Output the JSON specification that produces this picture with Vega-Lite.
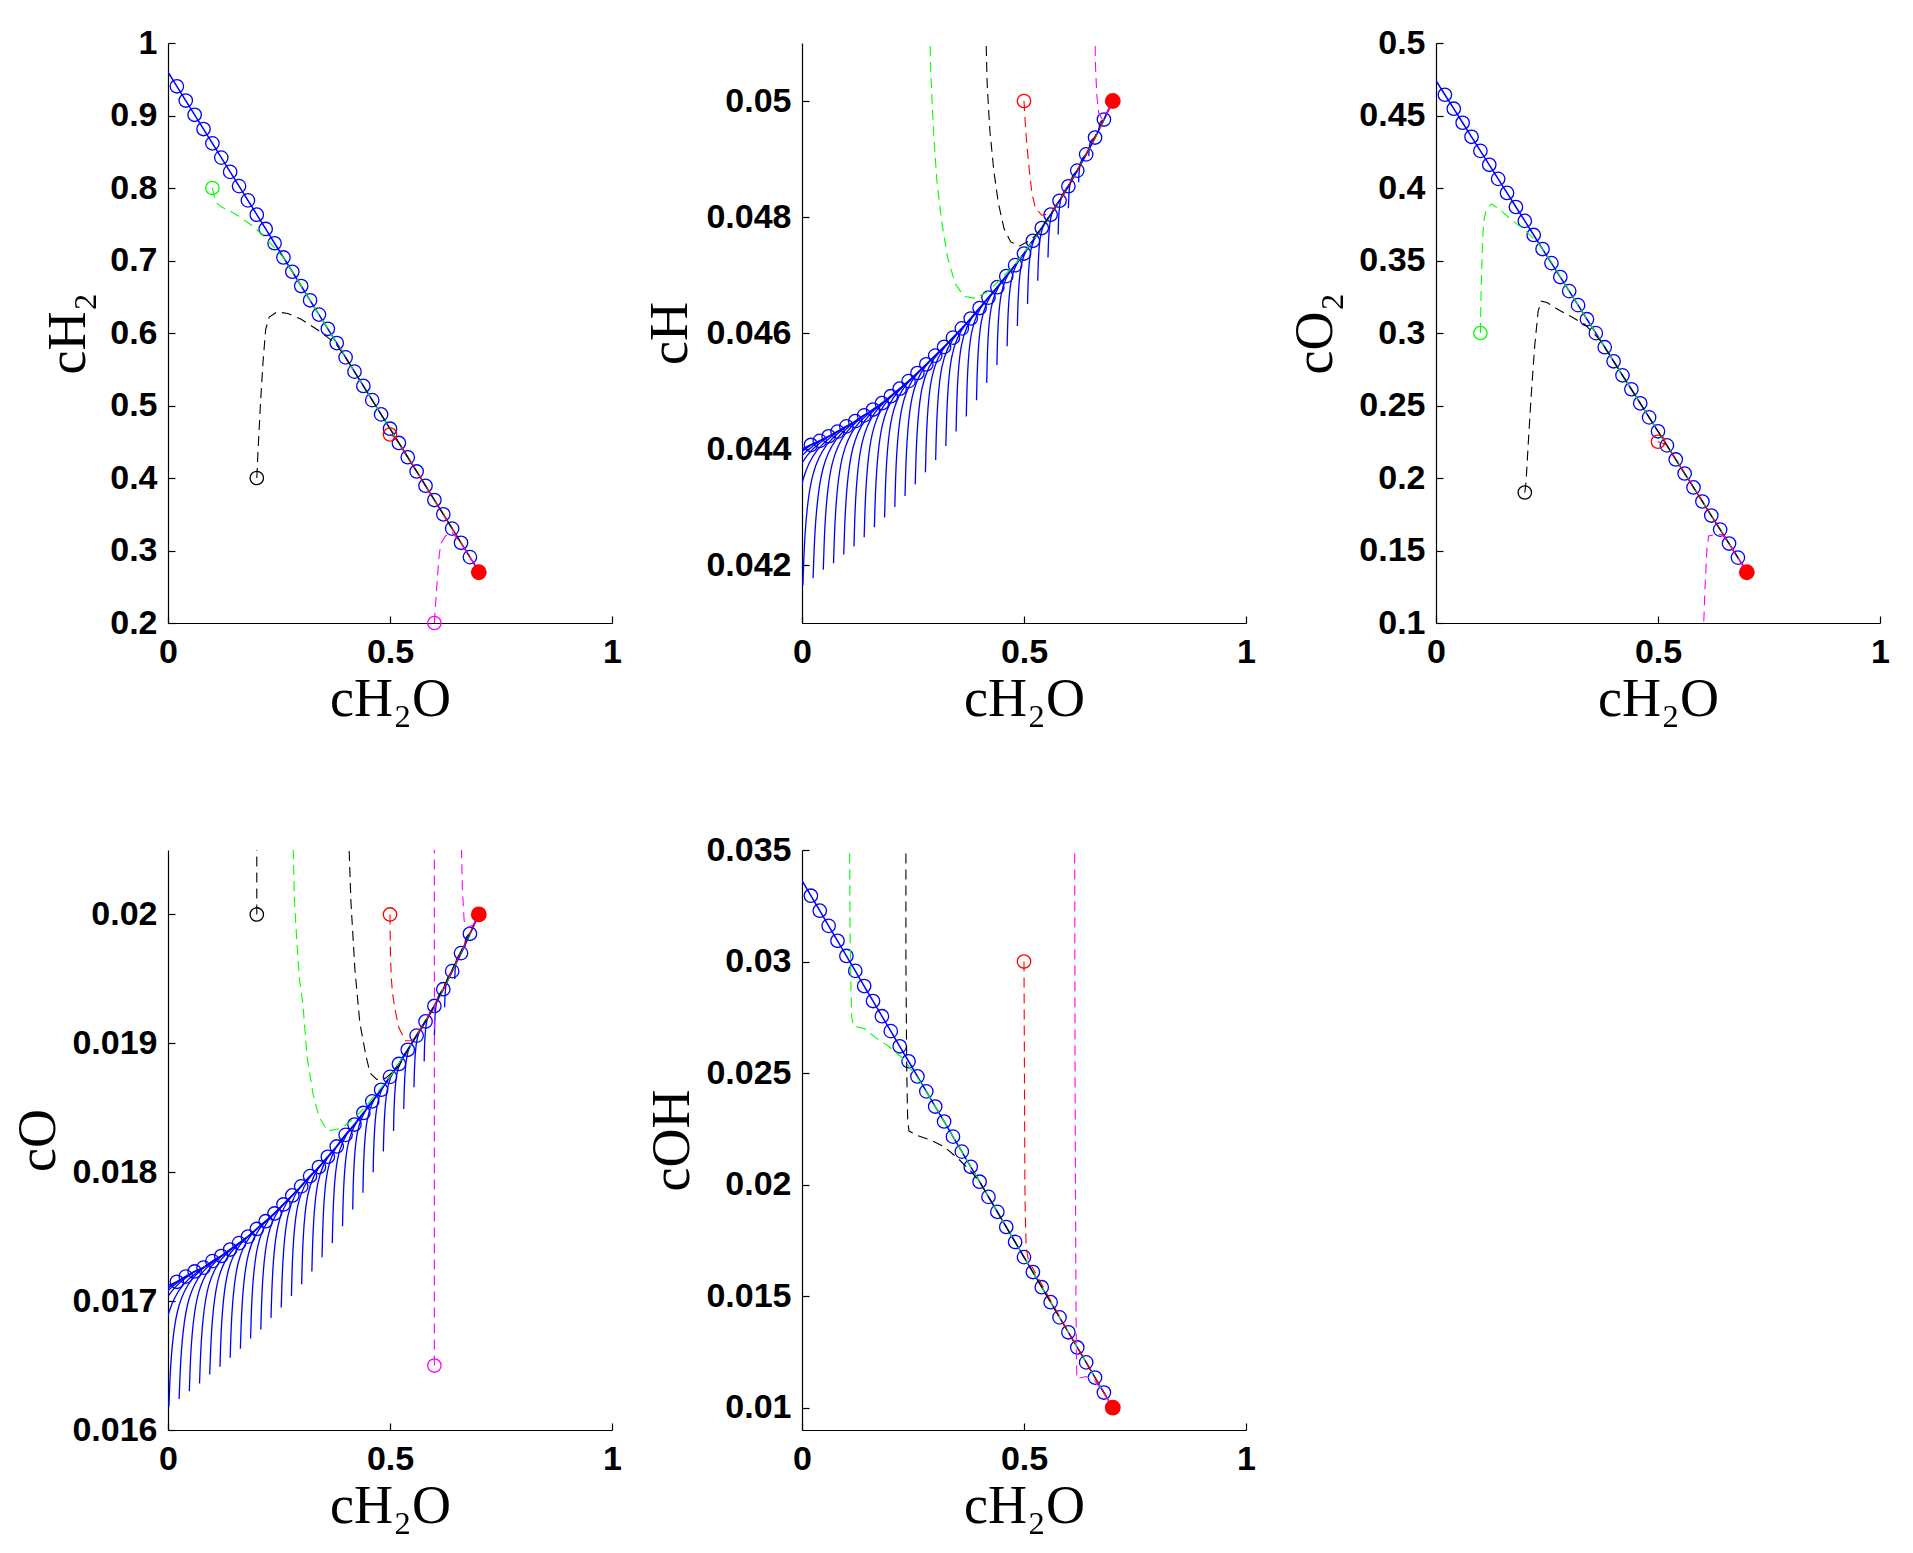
{
"$schema": "https://vega.github.io/schema/vega-lite/v6.json",
"background": "white",
"padding": {"left": 8, "top": 26, "right": 5, "bottom": 5},
"datasets": {
"man": [
{"p":1,"x":0,"y":0.96},{"p":1,"x":0.02,"y":0.9403},{"p":1,"x":0.04,"y":0.9206},{"p":1,"x":0.06,"y":0.901},{"p":1,"x":0.08,"y":0.8813},{"p":1,"x":0.1,"y":0.8616},{"p":1,"x":0.12,"y":0.8419},{"p":1,"x":0.14,"y":0.8222},{"p":1,"x":0.16,"y":0.8026},{"p":1,"x":0.18,"y":0.7829},{"p":1,"x":0.2,"y":0.7632},{"p":1,"x":0.22,"y":0.7435},{"p":1,"x":0.24,"y":0.7238},{"p":1,"x":0.26,"y":0.7042},{"p":1,"x":0.28,"y":0.6845},{"p":1,"x":0.3,"y":0.6648},{"p":1,"x":0.32,"y":0.6451},{"p":1,"x":0.34,"y":0.6254},{"p":1,"x":0.36,"y":0.6058},{"p":1,"x":0.38,"y":0.5861},{"p":1,"x":0.4,"y":0.5664},{"p":1,"x":0.42,"y":0.5467},{"p":1,"x":0.44,"y":0.527},{"p":1,"x":0.46,"y":0.5074},{"p":1,"x":0.48,"y":0.4877},{"p":1,"x":0.5,"y":0.468},{"p":1,"x":0.52,"y":0.4483},{"p":1,"x":0.54,"y":0.4286},{"p":1,"x":0.56,"y":0.409},{"p":1,"x":0.58,"y":0.3893},{"p":1,"x":0.6,"y":0.3696},{"p":1,"x":0.62,"y":0.3499},{"p":1,"x":0.64,"y":0.3302},{"p":1,"x":0.66,"y":0.3106},{"p":1,"x":0.68,"y":0.2909},{"p":1,"x":0.7,"y":0.2712},
{"p":2,"x":0,"y":0.044},{"p":2,"x":0.02,"y":0.04407},{"p":2,"x":0.04,"y":0.04414},{"p":2,"x":0.06,"y":0.04422},{"p":2,"x":0.08,"y":0.0443},{"p":2,"x":0.1,"y":0.04439},{"p":2,"x":0.12,"y":0.04448},{"p":2,"x":0.14,"y":0.04458},{"p":2,"x":0.16,"y":0.04468},{"p":2,"x":0.18,"y":0.04479},{"p":2,"x":0.2,"y":0.04491},{"p":2,"x":0.22,"y":0.04504},{"p":2,"x":0.24,"y":0.04517},{"p":2,"x":0.26,"y":0.04531},{"p":2,"x":0.28,"y":0.04546},{"p":2,"x":0.3,"y":0.04561},{"p":2,"x":0.32,"y":0.04576},{"p":2,"x":0.34,"y":0.04592},{"p":2,"x":0.36,"y":0.04608},{"p":2,"x":0.38,"y":0.04625},{"p":2,"x":0.4,"y":0.04643},{"p":2,"x":0.42,"y":0.04661},{"p":2,"x":0.44,"y":0.04679},{"p":2,"x":0.46,"y":0.04698},{"p":2,"x":0.48,"y":0.04717},{"p":2,"x":0.5,"y":0.04737},{"p":2,"x":0.52,"y":0.04759},{"p":2,"x":0.54,"y":0.04781},{"p":2,"x":0.56,"y":0.04804},{"p":2,"x":0.58,"y":0.04828},{"p":2,"x":0.6,"y":0.04853},{"p":2,"x":0.62,"y":0.0488},{"p":2,"x":0.64,"y":0.04908},{"p":2,"x":0.66,"y":0.04937},{"p":2,"x":0.68,"y":0.04968},{"p":2,"x":0.7,"y":0.05},
{"p":3,"x":0,"y":0.474},{"p":3,"x":0.02,"y":0.4643},{"p":3,"x":0.04,"y":0.4547},{"p":3,"x":0.06,"y":0.445},{"p":3,"x":0.08,"y":0.4353},{"p":3,"x":0.1,"y":0.4256},{"p":3,"x":0.12,"y":0.416},{"p":3,"x":0.14,"y":0.4063},{"p":3,"x":0.16,"y":0.3966},{"p":3,"x":0.18,"y":0.3869},{"p":3,"x":0.2,"y":0.3773},{"p":3,"x":0.22,"y":0.3676},{"p":3,"x":0.24,"y":0.3579},{"p":3,"x":0.26,"y":0.3482},{"p":3,"x":0.28,"y":0.3386},{"p":3,"x":0.3,"y":0.3289},{"p":3,"x":0.32,"y":0.3192},{"p":3,"x":0.34,"y":0.3095},{"p":3,"x":0.36,"y":0.2999},{"p":3,"x":0.38,"y":0.2902},{"p":3,"x":0.4,"y":0.2805},{"p":3,"x":0.42,"y":0.2708},{"p":3,"x":0.44,"y":0.2612},{"p":3,"x":0.46,"y":0.2515},{"p":3,"x":0.48,"y":0.2418},{"p":3,"x":0.5,"y":0.2322},{"p":3,"x":0.52,"y":0.2225},{"p":3,"x":0.54,"y":0.2128},{"p":3,"x":0.56,"y":0.2031},{"p":3,"x":0.58,"y":0.1935},{"p":3,"x":0.6,"y":0.1838},{"p":3,"x":0.62,"y":0.1741},{"p":3,"x":0.64,"y":0.1644},{"p":3,"x":0.66,"y":0.1548},{"p":3,"x":0.68,"y":0.1451},{"p":3,"x":0.7,"y":0.1354},
{"p":4,"x":0,"y":0.01712},{"p":4,"x":0.02,"y":0.01715},{"p":4,"x":0.04,"y":0.01719},{"p":4,"x":0.06,"y":0.01723},{"p":4,"x":0.08,"y":0.01726},{"p":4,"x":0.1,"y":0.01731},{"p":4,"x":0.12,"y":0.01735},{"p":4,"x":0.14,"y":0.0174},{"p":4,"x":0.16,"y":0.01745},{"p":4,"x":0.18,"y":0.0175},{"p":4,"x":0.2,"y":0.01756},{"p":4,"x":0.22,"y":0.01762},{"p":4,"x":0.24,"y":0.01768},{"p":4,"x":0.26,"y":0.01775},{"p":4,"x":0.28,"y":0.01782},{"p":4,"x":0.3,"y":0.01789},{"p":4,"x":0.32,"y":0.01797},{"p":4,"x":0.34,"y":0.01804},{"p":4,"x":0.36,"y":0.01812},{"p":4,"x":0.38,"y":0.0182},{"p":4,"x":0.4,"y":0.01829},{"p":4,"x":0.42,"y":0.01837},{"p":4,"x":0.44,"y":0.01846},{"p":4,"x":0.46,"y":0.01855},{"p":4,"x":0.48,"y":0.01864},{"p":4,"x":0.5,"y":0.01874},{"p":4,"x":0.52,"y":0.01884},{"p":4,"x":0.54,"y":0.01895},{"p":4,"x":0.56,"y":0.01906},{"p":4,"x":0.58,"y":0.01917},{"p":4,"x":0.6,"y":0.01929},{"p":4,"x":0.62,"y":0.01942},{"p":4,"x":0.64,"y":0.01956},{"p":4,"x":0.66,"y":0.0197},{"p":4,"x":0.68,"y":0.01985},{"p":4,"x":0.7,"y":0.02},
{"p":5,"x":0,"y":0.03363},{"p":5,"x":0.02,"y":0.03295},{"p":5,"x":0.04,"y":0.03228},{"p":5,"x":0.06,"y":0.0316},{"p":5,"x":0.08,"y":0.03093},{"p":5,"x":0.1,"y":0.03025},{"p":5,"x":0.12,"y":0.02958},{"p":5,"x":0.14,"y":0.0289},{"p":5,"x":0.16,"y":0.02823},{"p":5,"x":0.18,"y":0.02755},{"p":5,"x":0.2,"y":0.02688},{"p":5,"x":0.22,"y":0.0262},{"p":5,"x":0.24,"y":0.02553},{"p":5,"x":0.26,"y":0.02485},{"p":5,"x":0.28,"y":0.02418},{"p":5,"x":0.3,"y":0.0235},{"p":5,"x":0.32,"y":0.02283},{"p":5,"x":0.34,"y":0.02215},{"p":5,"x":0.36,"y":0.02148},{"p":5,"x":0.38,"y":0.0208},{"p":5,"x":0.4,"y":0.02013},{"p":5,"x":0.42,"y":0.01945},{"p":5,"x":0.44,"y":0.01878},{"p":5,"x":0.46,"y":0.0181},{"p":5,"x":0.48,"y":0.01743},{"p":5,"x":0.5,"y":0.01675},{"p":5,"x":0.52,"y":0.01608},{"p":5,"x":0.54,"y":0.0154},{"p":5,"x":0.56,"y":0.01473},{"p":5,"x":0.58,"y":0.01405},{"p":5,"x":0.6,"y":0.01338},{"p":5,"x":0.62,"y":0.0127},{"p":5,"x":0.64,"y":0.01203},{"p":5,"x":0.66,"y":0.01135},{"p":5,"x":0.68,"y":0.01068},{"p":5,"x":0.7,"y":0.01}
],
"fib": [
{"p":2,"k":0,"i":0,"x":-0.09,"y":0.04125},{"p":2,"k":0,"i":1,"x":-0.079,"y":0.04351},{"p":2,"k":0,"i":2,"x":0.02,"y":0.04407},
{"p":2,"k":1,"i":0,"x":-0.067,"y":0.04135},{"p":2,"k":1,"i":1,"x":-0.056,"y":0.04358},{"p":2,"k":1,"i":2,"x":0.04,"y":0.04414},
{"p":2,"k":2,"i":0,"x":-0.044,"y":0.04145},{"p":2,"k":2,"i":1,"x":-0.034,"y":0.04367},{"p":2,"k":2,"i":2,"x":0.06,"y":0.04422},
{"p":2,"k":3,"i":0,"x":-0.021,"y":0.04155},{"p":2,"k":3,"i":1,"x":-0.011,"y":0.04375},{"p":2,"k":3,"i":2,"x":0.08,"y":0.0443},
{"p":2,"k":4,"i":0,"x":0.002,"y":0.04165},{"p":2,"k":4,"i":1,"x":0.012,"y":0.04384},{"p":2,"k":4,"i":2,"x":0.1,"y":0.04439},
{"p":2,"k":5,"i":0,"x":0.025,"y":0.04177},{"p":2,"k":5,"i":1,"x":0.035,"y":0.04394},{"p":2,"k":5,"i":2,"x":0.12,"y":0.04448},
{"p":2,"k":6,"i":0,"x":0.048,"y":0.04192},{"p":2,"k":6,"i":1,"x":0.057,"y":0.04405},{"p":2,"k":6,"i":2,"x":0.14,"y":0.04458},
{"p":2,"k":7,"i":0,"x":0.071,"y":0.04203},{"p":2,"k":7,"i":1,"x":0.08,"y":0.04415},{"p":2,"k":7,"i":2,"x":0.16,"y":0.04468},
{"p":2,"k":8,"i":0,"x":0.094,"y":0.04218},{"p":2,"k":8,"i":1,"x":0.103,"y":0.04427},{"p":2,"k":8,"i":2,"x":0.18,"y":0.04479},
{"p":2,"k":9,"i":0,"x":0.117,"y":0.04232},{"p":2,"k":9,"i":1,"x":0.125,"y":0.04439},{"p":2,"k":9,"i":2,"x":0.2,"y":0.04491},
{"p":2,"k":10,"i":0,"x":0.14,"y":0.04248},{"p":2,"k":10,"i":1,"x":0.148,"y":0.04453},{"p":2,"k":10,"i":2,"x":0.22,"y":0.04504},
{"p":2,"k":11,"i":0,"x":0.163,"y":0.04265},{"p":2,"k":11,"i":1,"x":0.171,"y":0.04467},{"p":2,"k":11,"i":2,"x":0.24,"y":0.04517},
{"p":2,"k":12,"i":0,"x":0.186,"y":0.04282},{"p":2,"k":12,"i":1,"x":0.193,"y":0.04481},{"p":2,"k":12,"i":2,"x":0.26,"y":0.04531},
{"p":2,"k":13,"i":0,"x":0.209,"y":0.043},{"p":2,"k":13,"i":1,"x":0.216,"y":0.04497},{"p":2,"k":13,"i":2,"x":0.28,"y":0.04546},
{"p":2,"k":14,"i":0,"x":0.232,"y":0.04319},{"p":2,"k":14,"i":1,"x":0.239,"y":0.04513},{"p":2,"k":14,"i":2,"x":0.3,"y":0.04561},
{"p":2,"k":15,"i":0,"x":0.255,"y":0.04339},{"p":2,"k":15,"i":1,"x":0.262,"y":0.04529},{"p":2,"k":15,"i":2,"x":0.32,"y":0.04576},
{"p":2,"k":16,"i":0,"x":0.278,"y":0.0436},{"p":2,"k":16,"i":1,"x":0.284,"y":0.04546},{"p":2,"k":16,"i":2,"x":0.34,"y":0.04592},
{"p":2,"k":17,"i":0,"x":0.301,"y":0.04381},{"p":2,"k":17,"i":1,"x":0.307,"y":0.04563},{"p":2,"k":17,"i":2,"x":0.36,"y":0.04608},
{"p":2,"k":18,"i":0,"x":0.324,"y":0.04405},{"p":2,"k":18,"i":1,"x":0.33,"y":0.04581},{"p":2,"k":18,"i":2,"x":0.38,"y":0.04625},
{"p":2,"k":19,"i":0,"x":0.347,"y":0.0443},{"p":2,"k":19,"i":1,"x":0.352,"y":0.046},{"p":2,"k":19,"i":2,"x":0.4,"y":0.04643},
{"p":2,"k":20,"i":0,"x":0.37,"y":0.04456},{"p":2,"k":20,"i":1,"x":0.375,"y":0.0462},{"p":2,"k":20,"i":2,"x":0.42,"y":0.04661},
{"p":2,"k":21,"i":0,"x":0.393,"y":0.04484},{"p":2,"k":21,"i":1,"x":0.398,"y":0.0464},{"p":2,"k":21,"i":2,"x":0.44,"y":0.04679},
{"p":2,"k":22,"i":0,"x":0.416,"y":0.04514},{"p":2,"k":22,"i":1,"x":0.42,"y":0.04661},{"p":2,"k":22,"i":2,"x":0.46,"y":0.04698},
{"p":2,"k":23,"i":0,"x":0.439,"y":0.04545},{"p":2,"k":23,"i":1,"x":0.443,"y":0.04683},{"p":2,"k":23,"i":2,"x":0.48,"y":0.04717},
{"p":2,"k":24,"i":0,"x":0.462,"y":0.04577},{"p":2,"k":24,"i":1,"x":0.466,"y":0.04705},{"p":2,"k":24,"i":2,"x":0.5,"y":0.04737},
{"p":2,"k":25,"i":0,"x":0.485,"y":0.04612},{"p":2,"k":25,"i":1,"x":0.489,"y":0.0473},{"p":2,"k":25,"i":2,"x":0.52,"y":0.04759},
{"p":2,"k":26,"i":0,"x":0.508,"y":0.0465},{"p":2,"k":26,"i":1,"x":0.511,"y":0.04755},{"p":2,"k":26,"i":2,"x":0.54,"y":0.04781},
{"p":2,"k":27,"i":0,"x":0.531,"y":0.0469},{"p":2,"k":27,"i":1,"x":0.534,"y":0.04781},{"p":2,"k":27,"i":2,"x":0.56,"y":0.04804},
{"p":2,"k":28,"i":0,"x":0.554,"y":0.0473},{"p":2,"k":28,"i":1,"x":0.557,"y":0.04808},{"p":2,"k":28,"i":2,"x":0.58,"y":0.04828},
{"p":2,"k":29,"i":0,"x":0.577,"y":0.0477},{"p":2,"k":29,"i":1,"x":0.579,"y":0.04836},{"p":2,"k":29,"i":2,"x":0.6,"y":0.04853},
{"p":2,"k":30,"i":0,"x":0.6,"y":0.04815},{"p":2,"k":30,"i":1,"x":0.602,"y":0.04867},{"p":2,"k":30,"i":2,"x":0.62,"y":0.0488},
{"p":2,"k":31,"i":0,"x":0.623,"y":0.0486},{"p":2,"k":31,"i":1,"x":0.625,"y":0.04898},{"p":2,"k":31,"i":2,"x":0.64,"y":0.04908},
{"p":2,"k":32,"i":0,"x":0.646,"y":0.04905},{"p":2,"k":32,"i":1,"x":0.647,"y":0.04931},{"p":2,"k":32,"i":2,"x":0.66,"y":0.04937},
{"p":2,"k":33,"i":0,"x":0.669,"y":0.0495},{"p":2,"k":33,"i":1,"x":0.67,"y":0.04964},{"p":2,"k":33,"i":2,"x":0.68,"y":0.04968},
{"p":4,"k":0,"i":0,"x":-0.09,"y":0.01594},{"p":4,"k":0,"i":1,"x":-0.079,"y":0.01691},{"p":4,"k":0,"i":2,"x":0.02,"y":0.01715},
{"p":4,"k":1,"i":0,"x":-0.067,"y":0.016},{"p":4,"k":1,"i":1,"x":-0.056,"y":0.01695},{"p":4,"k":1,"i":2,"x":0.04,"y":0.01719},
{"p":4,"k":2,"i":0,"x":-0.044,"y":0.01606},{"p":4,"k":2,"i":1,"x":-0.034,"y":0.017},{"p":4,"k":2,"i":2,"x":0.06,"y":0.01723},
{"p":4,"k":3,"i":0,"x":-0.021,"y":0.01612},{"p":4,"k":3,"i":1,"x":-0.011,"y":0.01703},{"p":4,"k":3,"i":2,"x":0.08,"y":0.01726},
{"p":4,"k":4,"i":0,"x":0.002,"y":0.01618},{"p":4,"k":4,"i":1,"x":0.012,"y":0.01708},{"p":4,"k":4,"i":2,"x":0.1,"y":0.01731},
{"p":4,"k":5,"i":0,"x":0.025,"y":0.01624},{"p":4,"k":5,"i":1,"x":0.035,"y":0.01713},{"p":4,"k":5,"i":2,"x":0.12,"y":0.01735},
{"p":4,"k":6,"i":0,"x":0.048,"y":0.0163},{"p":4,"k":6,"i":1,"x":0.057,"y":0.01718},{"p":4,"k":6,"i":2,"x":0.14,"y":0.0174},
{"p":4,"k":7,"i":0,"x":0.071,"y":0.01636},{"p":4,"k":7,"i":1,"x":0.08,"y":0.01723},{"p":4,"k":7,"i":2,"x":0.16,"y":0.01745},
{"p":4,"k":8,"i":0,"x":0.094,"y":0.01643},{"p":4,"k":8,"i":1,"x":0.103,"y":0.01729},{"p":4,"k":8,"i":2,"x":0.18,"y":0.0175},
{"p":4,"k":9,"i":0,"x":0.117,"y":0.01649},{"p":4,"k":9,"i":1,"x":0.125,"y":0.01735},{"p":4,"k":9,"i":2,"x":0.2,"y":0.01756},
{"p":4,"k":10,"i":0,"x":0.14,"y":0.01656},{"p":4,"k":10,"i":1,"x":0.148,"y":0.01741},{"p":4,"k":10,"i":2,"x":0.22,"y":0.01762},
{"p":4,"k":11,"i":0,"x":0.163,"y":0.01663},{"p":4,"k":11,"i":1,"x":0.171,"y":0.01747},{"p":4,"k":11,"i":2,"x":0.24,"y":0.01768},
{"p":4,"k":12,"i":0,"x":0.186,"y":0.01671},{"p":4,"k":12,"i":1,"x":0.193,"y":0.01754},{"p":4,"k":12,"i":2,"x":0.26,"y":0.01775},
{"p":4,"k":13,"i":0,"x":0.209,"y":0.01678},{"p":4,"k":13,"i":1,"x":0.216,"y":0.01761},{"p":4,"k":13,"i":2,"x":0.28,"y":0.01782},
{"p":4,"k":14,"i":0,"x":0.232,"y":0.01687},{"p":4,"k":14,"i":1,"x":0.239,"y":0.01769},{"p":4,"k":14,"i":2,"x":0.3,"y":0.01789},
{"p":4,"k":15,"i":0,"x":0.255,"y":0.01695},{"p":4,"k":15,"i":1,"x":0.262,"y":0.01777},{"p":4,"k":15,"i":2,"x":0.32,"y":0.01797},
{"p":4,"k":16,"i":0,"x":0.278,"y":0.01704},{"p":4,"k":16,"i":1,"x":0.284,"y":0.01784},{"p":4,"k":16,"i":2,"x":0.34,"y":0.01804},
{"p":4,"k":17,"i":0,"x":0.301,"y":0.01713},{"p":4,"k":17,"i":1,"x":0.307,"y":0.01792},{"p":4,"k":17,"i":2,"x":0.36,"y":0.01812},
{"p":4,"k":18,"i":0,"x":0.324,"y":0.01723},{"p":4,"k":18,"i":1,"x":0.33,"y":0.01801},{"p":4,"k":18,"i":2,"x":0.38,"y":0.0182},
{"p":4,"k":19,"i":0,"x":0.347,"y":0.01734},{"p":4,"k":19,"i":1,"x":0.352,"y":0.0181},{"p":4,"k":19,"i":2,"x":0.4,"y":0.01829},
{"p":4,"k":20,"i":0,"x":0.37,"y":0.01745},{"p":4,"k":20,"i":1,"x":0.375,"y":0.01819},{"p":4,"k":20,"i":2,"x":0.42,"y":0.01837},
{"p":4,"k":21,"i":0,"x":0.393,"y":0.01758},{"p":4,"k":21,"i":1,"x":0.398,"y":0.01828},{"p":4,"k":21,"i":2,"x":0.44,"y":0.01846},
{"p":4,"k":22,"i":0,"x":0.416,"y":0.01771},{"p":4,"k":22,"i":1,"x":0.42,"y":0.01838},{"p":4,"k":22,"i":2,"x":0.46,"y":0.01855},
{"p":4,"k":23,"i":0,"x":0.439,"y":0.01784},{"p":4,"k":23,"i":1,"x":0.443,"y":0.01848},{"p":4,"k":23,"i":2,"x":0.48,"y":0.01864},
{"p":4,"k":24,"i":0,"x":0.462,"y":0.018},{"p":4,"k":24,"i":1,"x":0.466,"y":0.01859},{"p":4,"k":24,"i":2,"x":0.5,"y":0.01874},
{"p":4,"k":25,"i":0,"x":0.485,"y":0.01816},{"p":4,"k":25,"i":1,"x":0.489,"y":0.0187},{"p":4,"k":25,"i":2,"x":0.52,"y":0.01884},
{"p":4,"k":26,"i":0,"x":0.508,"y":0.01832},{"p":4,"k":26,"i":1,"x":0.511,"y":0.01882},{"p":4,"k":26,"i":2,"x":0.54,"y":0.01895},
{"p":4,"k":27,"i":0,"x":0.531,"y":0.01849},{"p":4,"k":27,"i":1,"x":0.534,"y":0.01895},{"p":4,"k":27,"i":2,"x":0.56,"y":0.01906},
{"p":4,"k":28,"i":0,"x":0.554,"y":0.01866},{"p":4,"k":28,"i":1,"x":0.557,"y":0.01907},{"p":4,"k":28,"i":2,"x":0.58,"y":0.01917},
{"p":4,"k":29,"i":0,"x":0.577,"y":0.01886},{"p":4,"k":29,"i":1,"x":0.579,"y":0.0192},{"p":4,"k":29,"i":2,"x":0.6,"y":0.01929},
{"p":4,"k":30,"i":0,"x":0.6,"y":0.01906},{"p":4,"k":30,"i":1,"x":0.602,"y":0.01935},{"p":4,"k":30,"i":2,"x":0.62,"y":0.01942},
{"p":4,"k":31,"i":0,"x":0.623,"y":0.01928},{"p":4,"k":31,"i":1,"x":0.625,"y":0.0195},{"p":4,"k":31,"i":2,"x":0.64,"y":0.01956},
{"p":4,"k":32,"i":0,"x":0.646,"y":0.0195},{"p":4,"k":32,"i":1,"x":0.647,"y":0.01966},{"p":4,"k":32,"i":2,"x":0.66,"y":0.0197},
{"p":4,"k":33,"i":0,"x":0.669,"y":0.01975},{"p":4,"k":33,"i":1,"x":0.67,"y":0.01983},{"p":4,"k":33,"i":2,"x":0.68,"y":0.01985}
],
"trj": [
{"p":1,"c":"g","i":0,"x":0.1,"y":0.8},{"p":1,"c":"g","i":1,"x":0.104,"y":0.788},{"p":1,"c":"g","i":2,"x":0.11,"y":0.779},{"p":1,"c":"g","i":3,"x":0.12,"y":0.774},{"p":1,"c":"g","i":4,"x":0.14,"y":0.768},{"p":1,"c":"g","i":5,"x":0.16,"y":0.761},{"p":1,"c":"g","i":6,"x":0.185,"y":0.75},{"p":1,"c":"g","i":7,"x":0.21,"y":0.737},{"p":1,"c":"g","i":8,"x":0.235,"y":0.721},{"p":1,"c":"g","i":9,"x":0.26,"y":0.704},{"p":1,"c":"g","i":10,"x":0.3,"y":0.665},{"p":1,"c":"g","i":11,"x":0.4,"y":0.566},{"p":1,"c":"g","i":12,"x":0.5,"y":0.468},{"p":1,"c":"g","i":13,"x":0.6,"y":0.37},{"p":1,"c":"g","i":14,"x":0.7,"y":0.2712},
{"p":1,"c":"k","i":0,"x":0.2,"y":0.4},{"p":1,"c":"k","i":1,"x":0.203,"y":0.44},{"p":1,"c":"k","i":2,"x":0.208,"y":0.5},{"p":1,"c":"k","i":3,"x":0.214,"y":0.56},{"p":1,"c":"k","i":4,"x":0.22,"y":0.605},{"p":1,"c":"k","i":5,"x":0.228,"y":0.622},{"p":1,"c":"k","i":6,"x":0.245,"y":0.629},{"p":1,"c":"k","i":7,"x":0.27,"y":0.627},{"p":1,"c":"k","i":8,"x":0.3,"y":0.619},{"p":1,"c":"k","i":9,"x":0.34,"y":0.603},{"p":1,"c":"k","i":10,"x":0.377,"y":0.586},{"p":1,"c":"k","i":11,"x":0.4,"y":0.566},{"p":1,"c":"k","i":12,"x":0.5,"y":0.468},{"p":1,"c":"k","i":13,"x":0.6,"y":0.37},{"p":1,"c":"k","i":14,"x":0.7,"y":0.2712},
{"p":1,"c":"r","i":0,"x":0.5,"y":0.46},{"p":1,"c":"r","i":1,"x":0.51,"y":0.456},{"p":1,"c":"r","i":2,"x":0.52,"y":0.448},{"p":1,"c":"r","i":3,"x":0.6,"y":0.37},{"p":1,"c":"r","i":4,"x":0.7,"y":0.2712},
{"p":1,"c":"m","i":0,"x":0.6,"y":0.2},{"p":1,"c":"m","i":1,"x":0.603,"y":0.23},{"p":1,"c":"m","i":2,"x":0.607,"y":0.265},{"p":1,"c":"m","i":3,"x":0.611,"y":0.295},{"p":1,"c":"m","i":4,"x":0.615,"y":0.31},{"p":1,"c":"m","i":5,"x":0.625,"y":0.32},{"p":1,"c":"m","i":6,"x":0.64,"y":0.325},{"p":1,"c":"m","i":7,"x":0.66,"y":0.31},{"p":1,"c":"m","i":8,"x":0.7,"y":0.2712},
{"p":2,"c":"g","i":0,"x":0.287,"y":0.0515},{"p":2,"c":"g","i":1,"x":0.29,"y":0.0505},{"p":2,"c":"g","i":2,"x":0.296,"y":0.0495},{"p":2,"c":"g","i":3,"x":0.304,"y":0.0486},{"p":2,"c":"g","i":4,"x":0.315,"y":0.0479},{"p":2,"c":"g","i":5,"x":0.328,"y":0.0473},{"p":2,"c":"g","i":6,"x":0.345,"y":0.04685},{"p":2,"c":"g","i":7,"x":0.365,"y":0.04663},{"p":2,"c":"g","i":8,"x":0.39,"y":0.0466},{"p":2,"c":"g","i":9,"x":0.42,"y":0.04672},{"p":2,"c":"g","i":10,"x":0.45,"y":0.04695},{"p":2,"c":"g","i":11,"x":0.48,"y":0.04718},{"p":2,"c":"g","i":12,"x":0.52,"y":0.04759},{"p":2,"c":"g","i":13,"x":0.56,"y":0.04804},{"p":2,"c":"g","i":14,"x":0.6,"y":0.04853},{"p":2,"c":"g","i":15,"x":0.64,"y":0.04908},{"p":2,"c":"g","i":16,"x":0.67,"y":0.04952},{"p":2,"c":"g","i":17,"x":0.7,"y":0.05},
{"p":2,"c":"k","i":0,"x":0.413,"y":0.0515},{"p":2,"c":"k","i":1,"x":0.417,"y":0.0503},{"p":2,"c":"k","i":2,"x":0.423,"y":0.0495},{"p":2,"c":"k","i":3,"x":0.432,"y":0.0488},{"p":2,"c":"k","i":4,"x":0.442,"y":0.04825},{"p":2,"c":"k","i":5,"x":0.455,"y":0.0478},{"p":2,"c":"k","i":6,"x":0.47,"y":0.04757},{"p":2,"c":"k","i":7,"x":0.49,"y":0.0475},{"p":2,"c":"k","i":8,"x":0.51,"y":0.04758},{"p":2,"c":"k","i":9,"x":0.53,"y":0.04771},{"p":2,"c":"k","i":10,"x":0.56,"y":0.04804},{"p":2,"c":"k","i":11,"x":0.6,"y":0.04853},{"p":2,"c":"k","i":12,"x":0.64,"y":0.04908},{"p":2,"c":"k","i":13,"x":0.7,"y":0.05},
{"p":2,"c":"r","i":0,"x":0.5,"y":0.05},{"p":2,"c":"r","i":1,"x":0.503,"y":0.0496},{"p":2,"c":"r","i":2,"x":0.507,"y":0.0492},{"p":2,"c":"r","i":3,"x":0.512,"y":0.0488},{"p":2,"c":"r","i":4,"x":0.518,"y":0.0484},{"p":2,"c":"r","i":5,"x":0.526,"y":0.04815},{"p":2,"c":"r","i":6,"x":0.54,"y":0.04803},{"p":2,"c":"r","i":7,"x":0.56,"y":0.04806},{"p":2,"c":"r","i":8,"x":0.58,"y":0.04828},{"p":2,"c":"r","i":9,"x":0.62,"y":0.0488},{"p":2,"c":"r","i":10,"x":0.66,"y":0.04937},{"p":2,"c":"r","i":11,"x":0.7,"y":0.05},
{"p":2,"c":"m","i":0,"x":0.659,"y":0.0515},{"p":2,"c":"m","i":1,"x":0.661,"y":0.0506},{"p":2,"c":"m","i":2,"x":0.664,"y":0.0501},{"p":2,"c":"m","i":3,"x":0.668,"y":0.0498},{"p":2,"c":"m","i":4,"x":0.675,"y":0.0497},{"p":2,"c":"m","i":5,"x":0.685,"y":0.04975},{"p":2,"c":"m","i":6,"x":0.7,"y":0.05},
{"p":3,"c":"g","i":0,"x":0.1,"y":0.3},{"p":3,"c":"g","i":1,"x":0.101,"y":0.32},{"p":3,"c":"g","i":2,"x":0.103,"y":0.345},{"p":3,"c":"g","i":3,"x":0.105,"y":0.365},{"p":3,"c":"g","i":4,"x":0.108,"y":0.378},{"p":3,"c":"g","i":5,"x":0.114,"y":0.386},{"p":3,"c":"g","i":6,"x":0.125,"y":0.389},{"p":3,"c":"g","i":7,"x":0.14,"y":0.386},{"p":3,"c":"g","i":8,"x":0.17,"y":0.378},{"p":3,"c":"g","i":9,"x":0.2,"y":0.371},{"p":3,"c":"g","i":10,"x":0.23,"y":0.362},{"p":3,"c":"g","i":11,"x":0.26,"y":0.349},{"p":3,"c":"g","i":12,"x":0.3,"y":0.329},{"p":3,"c":"g","i":13,"x":0.4,"y":0.2805},{"p":3,"c":"g","i":14,"x":0.5,"y":0.2322},{"p":3,"c":"g","i":15,"x":0.6,"y":0.1838},{"p":3,"c":"g","i":16,"x":0.7,"y":0.1354},
{"p":3,"c":"k","i":0,"x":0.2,"y":0.19},{"p":3,"c":"k","i":1,"x":0.203,"y":0.198},{"p":3,"c":"k","i":2,"x":0.208,"y":0.225},{"p":3,"c":"k","i":3,"x":0.214,"y":0.255},{"p":3,"c":"k","i":4,"x":0.222,"y":0.29},{"p":3,"c":"k","i":5,"x":0.23,"y":0.315},{"p":3,"c":"k","i":6,"x":0.237,"y":0.322},{"p":3,"c":"k","i":7,"x":0.25,"y":0.321},{"p":3,"c":"k","i":8,"x":0.27,"y":0.317},{"p":3,"c":"k","i":9,"x":0.3,"y":0.312},{"p":3,"c":"k","i":10,"x":0.335,"y":0.306},{"p":3,"c":"k","i":11,"x":0.37,"y":0.295},{"p":3,"c":"k","i":12,"x":0.4,"y":0.2805},{"p":3,"c":"k","i":13,"x":0.5,"y":0.2322},{"p":3,"c":"k","i":14,"x":0.6,"y":0.1838},{"p":3,"c":"k","i":15,"x":0.7,"y":0.1354},
{"p":3,"c":"r","i":0,"x":0.5,"y":0.225},{"p":3,"c":"r","i":1,"x":0.51,"y":0.224},{"p":3,"c":"r","i":2,"x":0.52,"y":0.2225},{"p":3,"c":"r","i":3,"x":0.6,"y":0.1838},{"p":3,"c":"r","i":4,"x":0.7,"y":0.1354},
{"p":3,"c":"m","i":0,"x":0.6,"y":0.09},{"p":3,"c":"m","i":1,"x":0.603,"y":0.1},{"p":3,"c":"m","i":2,"x":0.606,"y":0.125},{"p":3,"c":"m","i":3,"x":0.61,"y":0.15},{"p":3,"c":"m","i":4,"x":0.614,"y":0.16},{"p":3,"c":"m","i":5,"x":0.63,"y":0.161},{"p":3,"c":"m","i":6,"x":0.645,"y":0.161},{"p":3,"c":"m","i":7,"x":0.66,"y":0.155},{"p":3,"c":"m","i":8,"x":0.68,"y":0.145},{"p":3,"c":"m","i":9,"x":0.7,"y":0.1354},
{"p":4,"c":"g","i":0,"x":0.281,"y":0.0215},{"p":4,"c":"g","i":1,"x":0.282,"y":0.0205},{"p":4,"c":"g","i":2,"x":0.285,"y":0.0201},{"p":4,"c":"g","i":3,"x":0.29,"y":0.0198},{"p":4,"c":"g","i":4,"x":0.296,"y":0.0195},{"p":4,"c":"g","i":5,"x":0.304,"y":0.0193},{"p":4,"c":"g","i":6,"x":0.313,"y":0.0189},{"p":4,"c":"g","i":7,"x":0.327,"y":0.0186},{"p":4,"c":"g","i":8,"x":0.34,"y":0.01843},{"p":4,"c":"g","i":9,"x":0.359,"y":0.01832},{"p":4,"c":"g","i":10,"x":0.39,"y":0.01834},{"p":4,"c":"g","i":11,"x":0.42,"y":0.01842},{"p":4,"c":"g","i":12,"x":0.45,"y":0.01853},{"p":4,"c":"g","i":13,"x":0.5,"y":0.01874},{"p":4,"c":"g","i":14,"x":0.54,"y":0.01895},{"p":4,"c":"g","i":15,"x":0.6,"y":0.01929},{"p":4,"c":"g","i":16,"x":0.64,"y":0.01956},{"p":4,"c":"g","i":17,"x":0.7,"y":0.02},
{"p":4,"c":"k","i":0,"x":0.2,"y":0.02},{"p":4,"c":"k","i":1,"x":0.2,"y":0.0225},{"p":4,"c":"k","i":2,"x":0.405,"y":0.0225},{"p":4,"c":"k","i":3,"x":0.408,"y":0.0205},{"p":4,"c":"k","i":4,"x":0.412,"y":0.0201},{"p":4,"c":"k","i":5,"x":0.421,"y":0.01957},{"p":4,"c":"k","i":6,"x":0.432,"y":0.01916},{"p":4,"c":"k","i":7,"x":0.446,"y":0.0189},{"p":4,"c":"k","i":8,"x":0.455,"y":0.01877},{"p":4,"c":"k","i":9,"x":0.47,"y":0.01872},{"p":4,"c":"k","i":10,"x":0.49,"y":0.01873},{"p":4,"c":"k","i":11,"x":0.52,"y":0.01882},{"p":4,"c":"k","i":12,"x":0.54,"y":0.01895},{"p":4,"c":"k","i":13,"x":0.6,"y":0.01929},{"p":4,"c":"k","i":14,"x":0.7,"y":0.02},
{"p":4,"c":"r","i":0,"x":0.5,"y":0.02},{"p":4,"c":"r","i":1,"x":0.501,"y":0.0197},{"p":4,"c":"r","i":2,"x":0.503,"y":0.0195},{"p":4,"c":"r","i":3,"x":0.506,"y":0.01938},{"p":4,"c":"r","i":4,"x":0.512,"y":0.01925},{"p":4,"c":"r","i":5,"x":0.52,"y":0.01912},{"p":4,"c":"r","i":6,"x":0.535,"y":0.01902},{"p":4,"c":"r","i":7,"x":0.55,"y":0.01902},{"p":4,"c":"r","i":8,"x":0.58,"y":0.01917},{"p":4,"c":"r","i":9,"x":0.62,"y":0.01942},{"p":4,"c":"r","i":10,"x":0.7,"y":0.02},
{"p":4,"c":"m","i":0,"x":0.6,"y":0.0165},{"p":4,"c":"m","i":1,"x":0.6,"y":0.018},{"p":4,"c":"m","i":2,"x":0.6,"y":0.0195},{"p":4,"c":"m","i":3,"x":0.6,"y":0.0225},{"p":4,"c":"m","i":4,"x":0.66,"y":0.0225},{"p":4,"c":"m","i":5,"x":0.661,"y":0.0205},{"p":4,"c":"m","i":6,"x":0.663,"y":0.0202},{"p":4,"c":"m","i":7,"x":0.667,"y":0.01995},{"p":4,"c":"m","i":8,"x":0.675,"y":0.0199},{"p":4,"c":"m","i":9,"x":0.688,"y":0.01992},{"p":4,"c":"m","i":10,"x":0.7,"y":0.02},
{"p":5,"c":"g","i":0,"x":0.107,"y":0.037},{"p":5,"c":"g","i":1,"x":0.108,"y":0.032},{"p":5,"c":"g","i":2,"x":0.11,"y":0.029},{"p":5,"c":"g","i":3,"x":0.112,"y":0.0275},{"p":5,"c":"g","i":4,"x":0.116,"y":0.0271},{"p":5,"c":"g","i":5,"x":0.14,"y":0.027},{"p":5,"c":"g","i":6,"x":0.165,"y":0.0266},{"p":5,"c":"g","i":7,"x":0.195,"y":0.0262},{"p":5,"c":"g","i":8,"x":0.225,"y":0.0257},{"p":5,"c":"g","i":9,"x":0.26,"y":0.0248},{"p":5,"c":"g","i":10,"x":0.3,"y":0.0235},{"p":5,"c":"g","i":11,"x":0.4,"y":0.02013},{"p":5,"c":"g","i":12,"x":0.5,"y":0.01675},{"p":5,"c":"g","i":13,"x":0.6,"y":0.01338},{"p":5,"c":"g","i":14,"x":0.7,"y":0.01},
{"p":5,"c":"k","i":0,"x":0.234,"y":0.037},{"p":5,"c":"k","i":1,"x":0.234,"y":0.03},{"p":5,"c":"k","i":2,"x":0.236,"y":0.025},{"p":5,"c":"k","i":3,"x":0.238,"y":0.0229},{"p":5,"c":"k","i":4,"x":0.241,"y":0.0224},{"p":5,"c":"k","i":5,"x":0.26,"y":0.0222},{"p":5,"c":"k","i":6,"x":0.29,"y":0.022},{"p":5,"c":"k","i":7,"x":0.32,"y":0.0217},{"p":5,"c":"k","i":8,"x":0.35,"y":0.0212},{"p":5,"c":"k","i":9,"x":0.38,"y":0.0206},{"p":5,"c":"k","i":10,"x":0.4,"y":0.02013},{"p":5,"c":"k","i":11,"x":0.5,"y":0.01675},{"p":5,"c":"k","i":12,"x":0.6,"y":0.01338},{"p":5,"c":"k","i":13,"x":0.7,"y":0.01},
{"p":5,"c":"r","i":0,"x":0.5,"y":0.03},{"p":5,"c":"r","i":1,"x":0.501,"y":0.025},{"p":5,"c":"r","i":2,"x":0.502,"y":0.02},{"p":5,"c":"r","i":3,"x":0.503,"y":0.0185},{"p":5,"c":"r","i":4,"x":0.505,"y":0.0172},{"p":5,"c":"r","i":5,"x":0.51,"y":0.0166},{"p":5,"c":"r","i":6,"x":0.6,"y":0.01338},{"p":5,"c":"r","i":7,"x":0.7,"y":0.01},
{"p":5,"c":"m","i":0,"x":0.614,"y":0.037},{"p":5,"c":"m","i":1,"x":0.615,"y":0.025},{"p":5,"c":"m","i":2,"x":0.616,"y":0.0195},{"p":5,"c":"m","i":3,"x":0.617,"y":0.015},{"p":5,"c":"m","i":4,"x":0.618,"y":0.0125},{"p":5,"c":"m","i":5,"x":0.619,"y":0.0113},{"p":5,"c":"m","i":6,"x":0.64,"y":0.0114},{"p":5,"c":"m","i":7,"x":0.66,"y":0.0112},{"p":5,"c":"m","i":8,"x":0.68,"y":0.01065},{"p":5,"c":"m","i":9,"x":0.7,"y":0.01}
],
"st": [
{"p":1,"c":"g","x":0.1,"y":0.8},{"p":1,"c":"k","x":0.2,"y":0.4},{"p":1,"c":"r","x":0.5,"y":0.46},{"p":1,"c":"m","x":0.6,"y":0.2},
{"p":2,"c":"r","x":0.5,"y":0.05},
{"p":3,"c":"g","x":0.1,"y":0.3},{"p":3,"c":"k","x":0.2,"y":0.19},{"p":3,"c":"r","x":0.5,"y":0.225},
{"p":4,"c":"k","x":0.2,"y":0.02},{"p":4,"c":"r","x":0.5,"y":0.02},{"p":4,"c":"m","x":0.6,"y":0.0165},
{"p":5,"c":"r","x":0.5,"y":0.03}
],
"eq": [
{"p":1,"x":0.7,"y":0.27},{"p":2,"x":0.7,"y":0.05},{"p":3,"x":0.7,"y":0.135},{"p":4,"x":0.7,"y":0.02},{"p":5,"x":0.7,"y":0.01}
]
},
"vconcat": [
{"hconcat": [
{"width": 444, "height": 580,
 "encoding": {
  "x": {"field":"x","type":"quantitative","scale":{"domain":[0,1],"nice":false,"zero":false},"axis":{"values":[0,0.5,1],"format":"~g","title":"cH₂O"}},
  "y": {"field":"y","type":"quantitative","scale":{"domain":[0.2,1],"nice":false,"zero":false},"axis":{"values":[0.2,0.3,0.4,0.5,0.6,0.7,0.8,0.9,1],"format":"~g","title":"cH₂","titleX":-100}}
 },
 "layer": [
  {"data":{"name":"man"},"transform":[{"filter":"datum.p==1"}],"mark":{"type":"line","color":"#0000ff","strokeWidth":1.5,"clip":true},"encoding":{"order":{"field":"x","type":"quantitative"}}},
  {"data":{"name":"man"},"transform":[{"filter":"datum.p==1 && datum.x>0.01 && datum.x<0.69"}],"mark":{"type":"point","shape":"circle","filled":false,"color":"#0000ff","size":180,"strokeWidth":1.3,"opacity":1}},
  {"data":{"name":"trj"},"transform":[{"filter":"datum.p==1"}],"mark":{"type":"line","strokeWidth":1.1,"strokeDash":[10,6],"clip":true},"encoding":{"color":{"field":"c","type":"nominal","scale":{"domain":["g","k","r","m"],"range":["#00ff00","#000000","#ff0000","#ff00ff"]},"legend":null},"order":{"field":"i","type":"quantitative"}}},
  {"data":{"name":"st"},"transform":[{"filter":"datum.p==1"}],"mark":{"type":"point","shape":"circle","filled":false,"size":180,"strokeWidth":1.3,"opacity":1},"encoding":{"color":{"field":"c","type":"nominal","scale":{"domain":["g","k","r","m"],"range":["#00ff00","#000000","#ff0000","#ff00ff"]},"legend":null}}},
  {"data":{"name":"eq"},"transform":[{"filter":"datum.p==1"}],"mark":{"type":"point","shape":"circle","filled":true,"color":"#ff0000","size":250,"opacity":1}}
 ]
},
{"width": 444, "height": 580,
 "encoding": {
  "x": {"field":"x","type":"quantitative","scale":{"domain":[0,1],"nice":false,"zero":false},"axis":{"values":[0,0.5,1],"format":"~g","title":"cH₂O"}},
  "y": {"field":"y","type":"quantitative","scale":{"domain":[0.041,0.051],"nice":false,"zero":false},"axis":{"values":[0.042,0.044,0.046,0.048,0.05],"format":"~g","title":"cH","titleX":-132}}
 },
 "layer": [
  {"data":{"name":"fib"},"transform":[{"filter":"datum.p==2"}],"mark":{"type":"line","color":"#0000ff","strokeWidth":1.3,"interpolate":"basis","clip":true},"encoding":{"detail":{"field":"k","type":"nominal"},"order":{"field":"i","type":"quantitative"}}},
  {"data":{"name":"man"},"transform":[{"filter":"datum.p==2"}],"mark":{"type":"line","color":"#0000ff","strokeWidth":1.8,"interpolate":"monotone","clip":true},"encoding":{"order":{"field":"x","type":"quantitative"}}},
  {"data":{"name":"man"},"transform":[{"filter":"datum.p==2 && datum.x>0.01 && datum.x<0.69"}],"mark":{"type":"point","shape":"circle","filled":false,"color":"#0000ff","size":180,"strokeWidth":1.3,"opacity":1}},
  {"data":{"name":"trj"},"transform":[{"filter":"datum.p==2"}],"mark":{"type":"line","strokeWidth":1.1,"strokeDash":[10,6],"clip":true},"encoding":{"color":{"field":"c","type":"nominal","scale":{"domain":["g","k","r","m"],"range":["#00ff00","#000000","#ff0000","#ff00ff"]},"legend":null},"order":{"field":"i","type":"quantitative"}}},
  {"data":{"name":"st"},"transform":[{"filter":"datum.p==2"}],"mark":{"type":"point","shape":"circle","filled":false,"size":180,"strokeWidth":1.3,"opacity":1},"encoding":{"color":{"field":"c","type":"nominal","scale":{"domain":["g","k","r","m"],"range":["#00ff00","#000000","#ff0000","#ff00ff"]},"legend":null}}},
  {"data":{"name":"eq"},"transform":[{"filter":"datum.p==2"}],"mark":{"type":"point","shape":"circle","filled":true,"color":"#ff0000","size":250,"opacity":1}}
 ]
},
{"width": 444, "height": 580,
 "encoding": {
  "x": {"field":"x","type":"quantitative","scale":{"domain":[0,1],"nice":false,"zero":false},"axis":{"values":[0,0.5,1],"format":"~g","title":"cH₂O"}},
  "y": {"field":"y","type":"quantitative","scale":{"domain":[0.1,0.5],"nice":false,"zero":false},"axis":{"values":[0.1,0.15,0.2,0.25,0.3,0.35,0.4,0.45,0.5],"format":"~g","title":"cO₂","titleX":-121}}
 },
 "layer": [
  {"data":{"name":"man"},"transform":[{"filter":"datum.p==3"}],"mark":{"type":"line","color":"#0000ff","strokeWidth":1.5,"clip":true},"encoding":{"order":{"field":"x","type":"quantitative"}}},
  {"data":{"name":"man"},"transform":[{"filter":"datum.p==3 && datum.x>0.01 && datum.x<0.69"}],"mark":{"type":"point","shape":"circle","filled":false,"color":"#0000ff","size":180,"strokeWidth":1.3,"opacity":1}},
  {"data":{"name":"trj"},"transform":[{"filter":"datum.p==3"}],"mark":{"type":"line","strokeWidth":1.1,"strokeDash":[10,6],"clip":true},"encoding":{"color":{"field":"c","type":"nominal","scale":{"domain":["g","k","r","m"],"range":["#00ff00","#000000","#ff0000","#ff00ff"]},"legend":null},"order":{"field":"i","type":"quantitative"}}},
  {"data":{"name":"st"},"transform":[{"filter":"datum.p==3"}],"mark":{"type":"point","shape":"circle","filled":false,"size":180,"strokeWidth":1.3,"opacity":1},"encoding":{"color":{"field":"c","type":"nominal","scale":{"domain":["g","k","r","m"],"range":["#00ff00","#000000","#ff0000","#ff00ff"]},"legend":null}}},
  {"data":{"name":"eq"},"transform":[{"filter":"datum.p==3"}],"mark":{"type":"point","shape":"circle","filled":true,"color":"#ff0000","size":250,"opacity":1}}
 ]
}
], "spacing": 20},
{"hconcat": [
{"width": 444, "height": 580,
 "encoding": {
  "x": {"field":"x","type":"quantitative","scale":{"domain":[0,1],"nice":false,"zero":false},"axis":{"values":[0,0.5,1],"format":"~g","title":"cH₂O"}},
  "y": {"field":"y","type":"quantitative","scale":{"domain":[0.016,0.0205],"nice":false,"zero":false},"axis":{"values":[0.016,0.017,0.018,0.019,0.02],"format":"~g","title":"cO","titleX":-130}}
 },
 "layer": [
  {"data":{"name":"fib"},"transform":[{"filter":"datum.p==4"}],"mark":{"type":"line","color":"#0000ff","strokeWidth":1.3,"interpolate":"basis","clip":true},"encoding":{"detail":{"field":"k","type":"nominal"},"order":{"field":"i","type":"quantitative"}}},
  {"data":{"name":"man"},"transform":[{"filter":"datum.p==4"}],"mark":{"type":"line","color":"#0000ff","strokeWidth":1.8,"interpolate":"monotone","clip":true},"encoding":{"order":{"field":"x","type":"quantitative"}}},
  {"data":{"name":"man"},"transform":[{"filter":"datum.p==4 && datum.x>0.01 && datum.x<0.69"}],"mark":{"type":"point","shape":"circle","filled":false,"color":"#0000ff","size":180,"strokeWidth":1.3,"opacity":1}},
  {"data":{"name":"trj"},"transform":[{"filter":"datum.p==4"}],"mark":{"type":"line","strokeWidth":1.1,"strokeDash":[10,6],"clip":true},"encoding":{"color":{"field":"c","type":"nominal","scale":{"domain":["g","k","r","m"],"range":["#00ff00","#000000","#ff0000","#ff00ff"]},"legend":null},"order":{"field":"i","type":"quantitative"}}},
  {"data":{"name":"st"},"transform":[{"filter":"datum.p==4"}],"mark":{"type":"point","shape":"circle","filled":false,"size":180,"strokeWidth":1.3,"opacity":1},"encoding":{"color":{"field":"c","type":"nominal","scale":{"domain":["g","k","r","m"],"range":["#00ff00","#000000","#ff0000","#ff00ff"]},"legend":null}}},
  {"data":{"name":"eq"},"transform":[{"filter":"datum.p==4"}],"mark":{"type":"point","shape":"circle","filled":true,"color":"#ff0000","size":250,"opacity":1}}
 ]
},
{"width": 444, "height": 580,
 "encoding": {
  "x": {"field":"x","type":"quantitative","scale":{"domain":[0,1],"nice":false,"zero":false},"axis":{"values":[0,0.5,1],"format":"~g","title":"cH₂O"}},
  "y": {"field":"y","type":"quantitative","scale":{"domain":[0.009,0.035],"nice":false,"zero":false},"axis":{"values":[0.01,0.015,0.02,0.025,0.03,0.035],"format":"~g","title":"cOH","titleX":-130}}
 },
 "layer": [
  {"data":{"name":"man"},"transform":[{"filter":"datum.p==5"}],"mark":{"type":"line","color":"#0000ff","strokeWidth":1.5,"clip":true},"encoding":{"order":{"field":"x","type":"quantitative"}}},
  {"data":{"name":"man"},"transform":[{"filter":"datum.p==5 && datum.x>0.01 && datum.x<0.69"}],"mark":{"type":"point","shape":"circle","filled":false,"color":"#0000ff","size":180,"strokeWidth":1.3,"opacity":1}},
  {"data":{"name":"trj"},"transform":[{"filter":"datum.p==5"}],"mark":{"type":"line","strokeWidth":1.1,"strokeDash":[10,6],"clip":true},"encoding":{"color":{"field":"c","type":"nominal","scale":{"domain":["g","k","r","m"],"range":["#00ff00","#000000","#ff0000","#ff00ff"]},"legend":null},"order":{"field":"i","type":"quantitative"}}},
  {"data":{"name":"st"},"transform":[{"filter":"datum.p==5"}],"mark":{"type":"point","shape":"circle","filled":false,"size":180,"strokeWidth":1.3,"opacity":1},"encoding":{"color":{"field":"c","type":"nominal","scale":{"domain":["g","k","r","m"],"range":["#00ff00","#000000","#ff0000","#ff00ff"]},"legend":null}}},
  {"data":{"name":"eq"},"transform":[{"filter":"datum.p==5"}],"mark":{"type":"point","shape":"circle","filled":true,"color":"#ff0000","size":250,"opacity":1}}
 ]
}
], "spacing": 20}
],
"spacing": 107,
"config": {
 "view": {"stroke": null},
 "axis": {"grid": false, "domainColor":"#000000","domainWidth":1.2,"tickColor":"#000000","tickWidth":1.2,"tickSize":-7,"labelFont":"Liberation Sans","labelFontWeight":"bold","labelFontSize":34,"labelColor":"#000000","labelFlush":false,"labelOverlap":false,"titleFont":"Liberation Serif","titleFontWeight":"normal","titleFontSize":54,"titleColor":"#000000"},
 "axisX": {"labelBaseline":"middle","labelPadding":36,"minExtent":40,"maxExtent":40,"titleY":76,"titleBaseline":"middle"},
 "axisY": {"labelPadding":18,"minExtent":160,"maxExtent":160,"titleY":290,"titleBaseline":"middle","titleAngle":-90}
}
}
